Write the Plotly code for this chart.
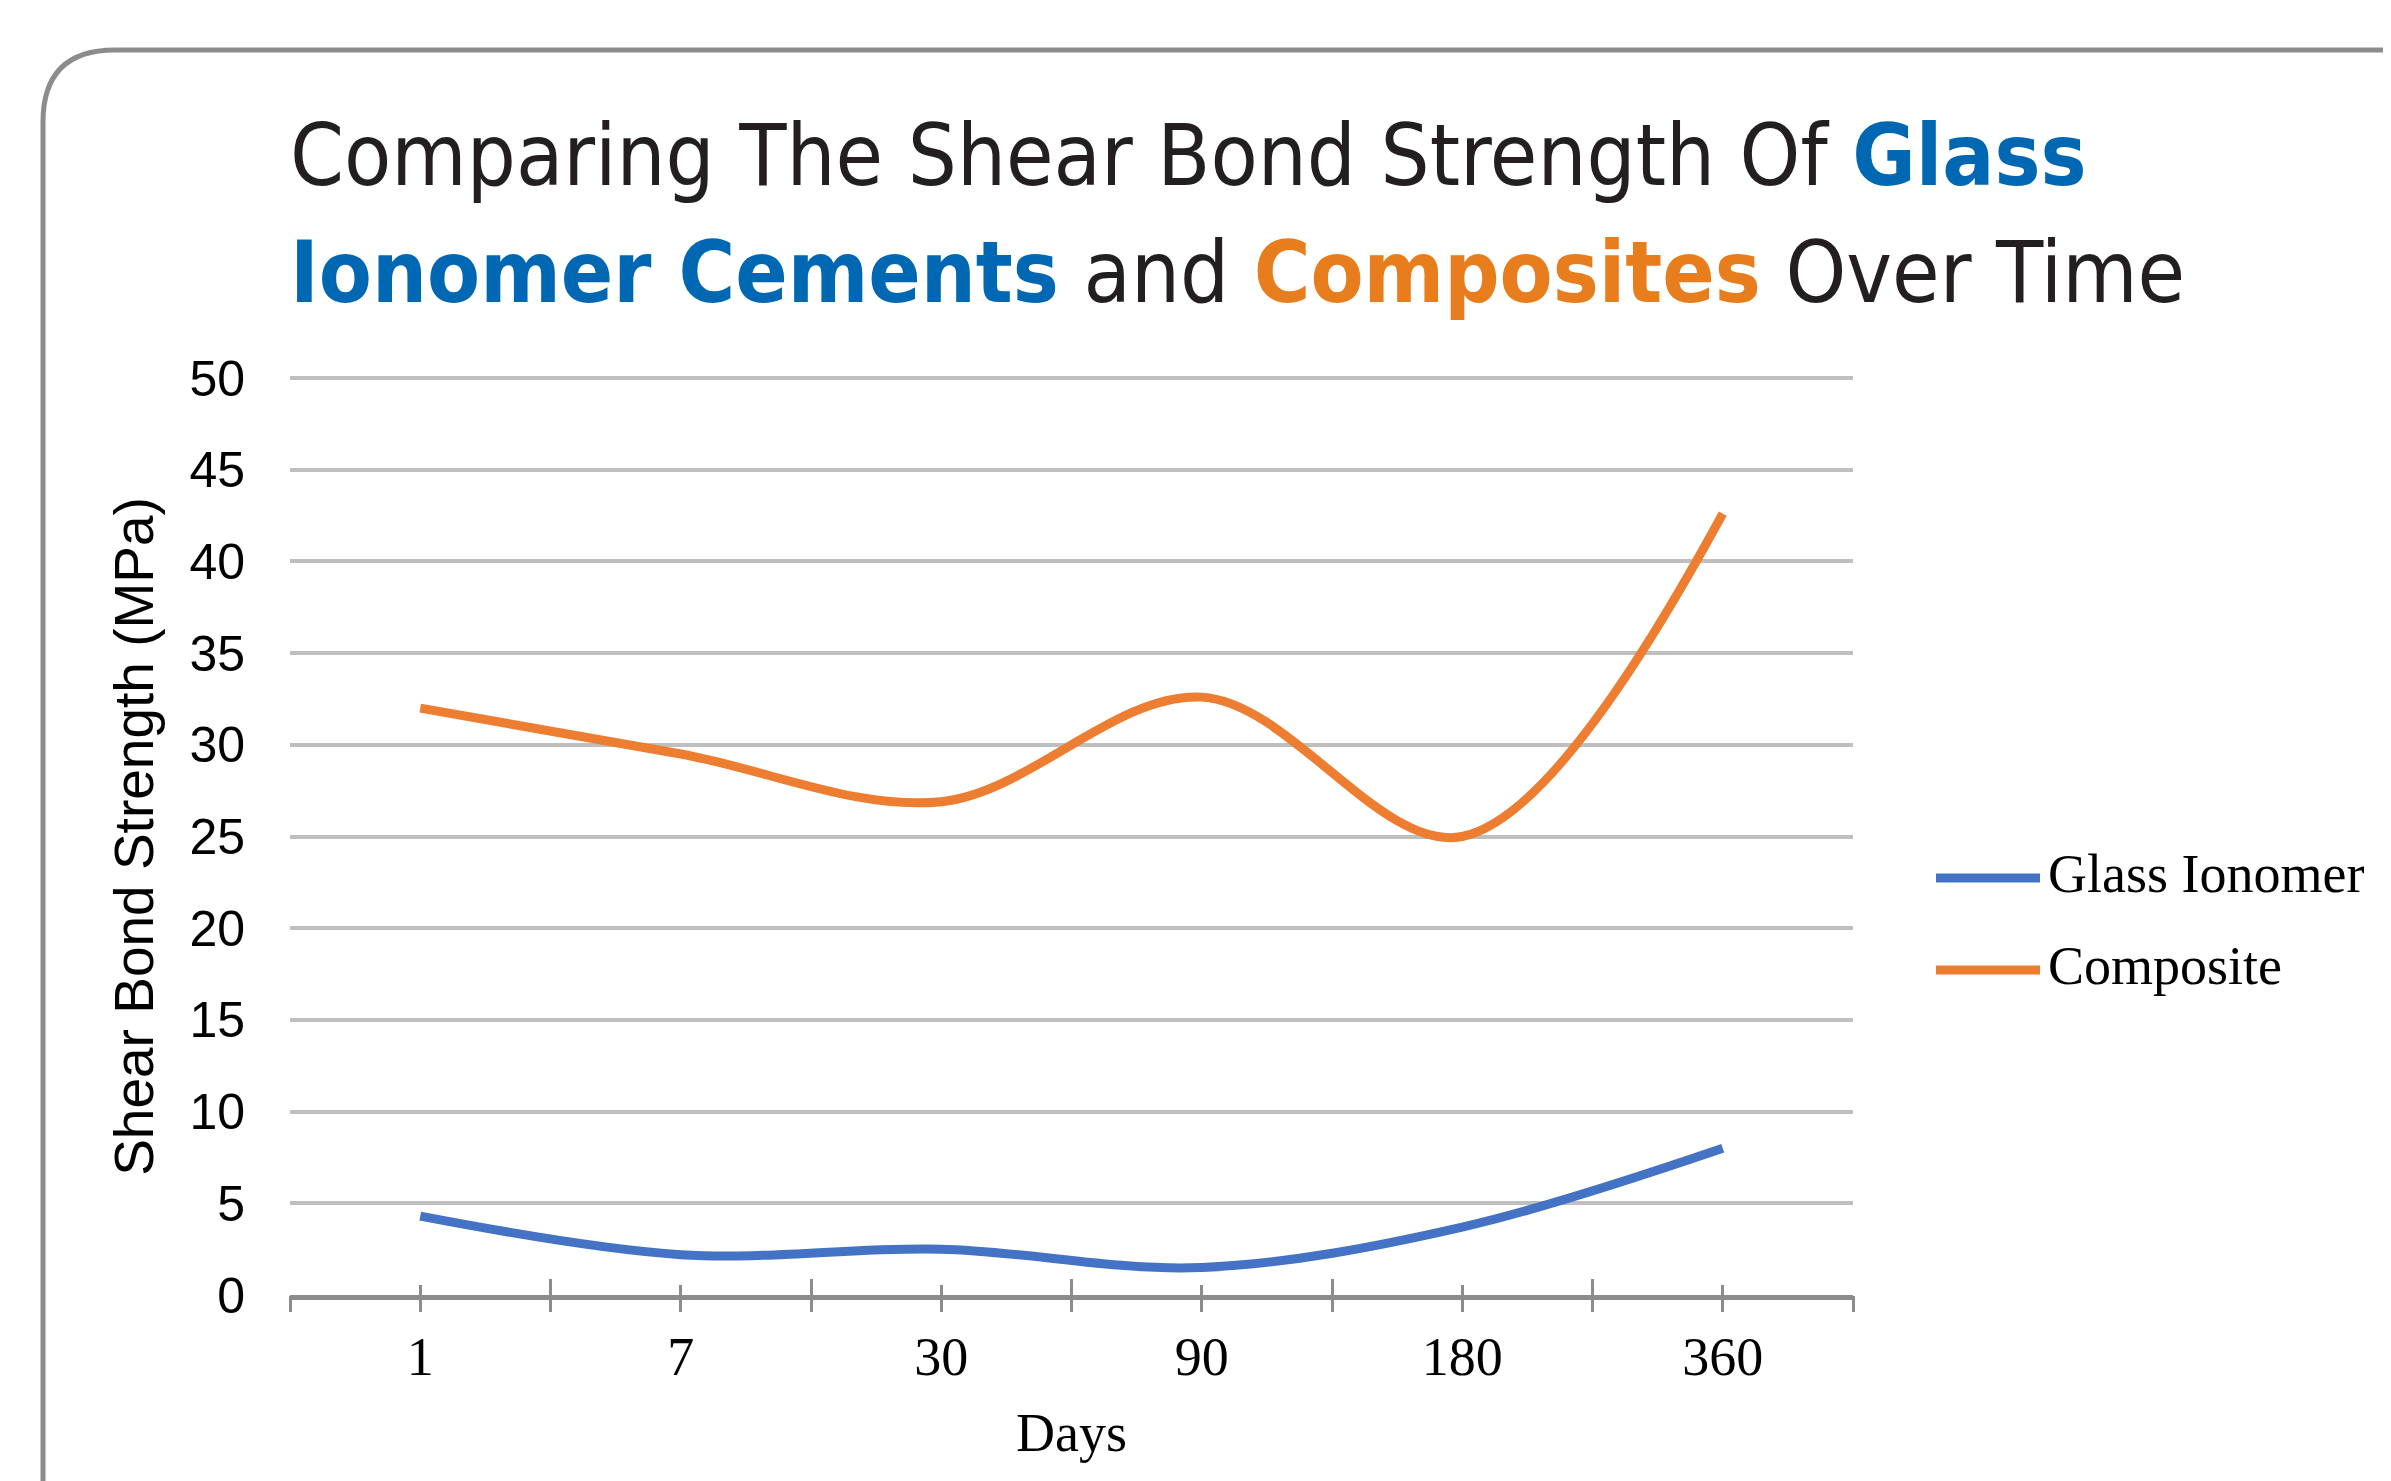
import plotly.graph_objects as go

# ---- data ----
days = ["1", "7", "30", "90", "180", "360"]
glass_ionomer = [4.3, 2.2, 2.5, 1.5, 3.7, 8.0]
composite = [32.0, 29.5, 26.9, 32.6, 25.0, 42.6]
y_ticks = [0, 5, 10, 15, 20, 25, 30, 35, 40, 45, 50]

W, H = 2391, 1481
OFF = 8  # page body margin
# plot area in absolute page pixels
AL, AR, AT, AB = 290, 1853, 378, 1295
L, R, T, B = AL - OFF, AR - OFF, AT - OFF, AB - OFF


def px(x):  # absolute page px -> paper
    return (x - AL) / (AR - AL)


def py(y):
    return (AB - y) / (AB - AT)


BLUE = "#4472C4"
ORANGE = "#ED7D31"
GRID = "#BFBFBF"
AXIS = "#8C8C8C"

fig = go.Figure()
fig.add_trace(go.Scatter(x=days, y=glass_ionomer, mode="lines", name="Glass Ionomer",
                         line=dict(color=BLUE, width=9, shape="spline", smoothing=1.0),
                         showlegend=False))
fig.add_trace(go.Scatter(x=days, y=composite, mode="lines", name="Composite",
                         line=dict(color=ORANGE, width=9, shape="spline", smoothing=1.0),
                         showlegend=False))

n = len(days)
centers = list(range(n))
bounds = [i - 0.5 for i in range(n + 1)]
rng = [-0.5, n - 0.5]

tick_common = dict(showgrid=False, zeroline=False, showticklabels=False,
                   overlaying="x", anchor="y", range=rng, type="linear",
                   tickmode="array", tickcolor=AXIS, tickwidth=3, showline=False)

SERIF = "Liberation Serif, Times New Roman, serif"
SANS = "Liberation Sans, Arial, sans-serif"

fig.update_layout(
    width=W, height=H,
    margin=dict(l=L, r=W - R, t=T, b=H - B),
    paper_bgcolor="white", plot_bgcolor="white",
    xaxis=dict(type="category", categoryorder="array", categoryarray=days,
               range=rng, showgrid=False, zeroline=False,
               showline=True, linecolor=AXIS, linewidth=5,
               ticks="", tickfont=dict(family=SERIF, size=54, color="#000"),
               title=dict(text="Days", font=dict(family=SERIF, size=54, color="#000"),
                          standoff=29),
               ticklabelstandoff=10),
    xaxis2=dict(tickvals=sorted(centers + bounds), ticks="outside", ticklen=16, **tick_common),
    xaxis3=dict(tickvals=bounds, ticks="inside", ticklen=16, **tick_common),
    xaxis4=dict(tickvals=centers, ticks="inside", ticklen=10, **tick_common),
    yaxis=dict(range=[0, 50], tickvals=y_ticks, showgrid=True, gridcolor=GRID, gridwidth=4,
               zeroline=False, showline=False, ticks="",
               tickfont=dict(family=SANS, size=50, color="#000"),
               ticklabelstandoff=44,
               title=dict(text="Shear Bond Strength (MPa)",
                          font=dict(family=SANS, size=55, color="#000"),
                          standoff=18)),
)

# top gridline (plotly skips the gridline lying on the plot edge); paper y=1 is the 50 level
fig.add_shape(type="line", xref="paper", yref="paper", x0=0, x1=1, y0=1, y1=1,
              line=dict(color=GRID, width=4), layer="below")

# invisible points so the tick-only overlay axes are drawn
for ax in ["x2", "x3", "x4"]:
    fig.add_trace(go.Scatter(x=[rng[0]], y=[0], xaxis=ax, yaxis="y", mode="markers",
                             marker=dict(opacity=0), showlegend=False, hoverinfo="skip"))

# ---- rounded frame ----
r = 72
x0, y0 = 43, 50
path = (f"M {px(W + 40)},{py(y0)} L {px(x0 + r)},{py(y0)} "
        f"Q {px(x0)},{py(y0)} {px(x0)},{py(y0 + r)} L {px(x0)},{py(H + 40)}")
fig.add_shape(type="path", path=path, xref="paper", yref="paper",
              line=dict(color=AXIS, width=5), layer="above")

# ---- title (two lines) ----
TFONT = "DejaVu Sans Condensed, sans-serif"
title_lines = [
    "Comparing The Shear Bond Strength Of <b><span style='color:#0068B3'>Glass</span></b>",
    "<b><span style='color:#0068B3'>Ionomer Cements</span></b> and "
    "<b><span style='color:#E87D1E'>Composites</span></b> Over Time",
]
title_y = [155, 272]
for txt, yy in zip(title_lines, title_y):
    fig.add_annotation(text=txt, xref="paper", yref="paper", x=px(288), y=py(yy),
                       xanchor="left", yanchor="middle", showarrow=False,
                       font=dict(family=TFONT, size=86, color="#231F20"))

# ---- legend ----
legend_items = [("Glass Ionomer", BLUE, 878), ("Composite", ORANGE, 970)]
for name, col, yy in legend_items:
    fig.add_shape(type="line", xref="paper", yref="paper",
                  x0=px(1936), x1=px(2040), y0=py(yy), y1=py(yy),
                  line=dict(color=col, width=9))
    fig.add_annotation(text=name, xref="paper", yref="paper", x=px(2046), y=py(yy - 4),
                       xanchor="left", yanchor="middle", showarrow=False,
                       font=dict(family=SERIF, size=54, color="#000"))

fig.write_html("out.html")
